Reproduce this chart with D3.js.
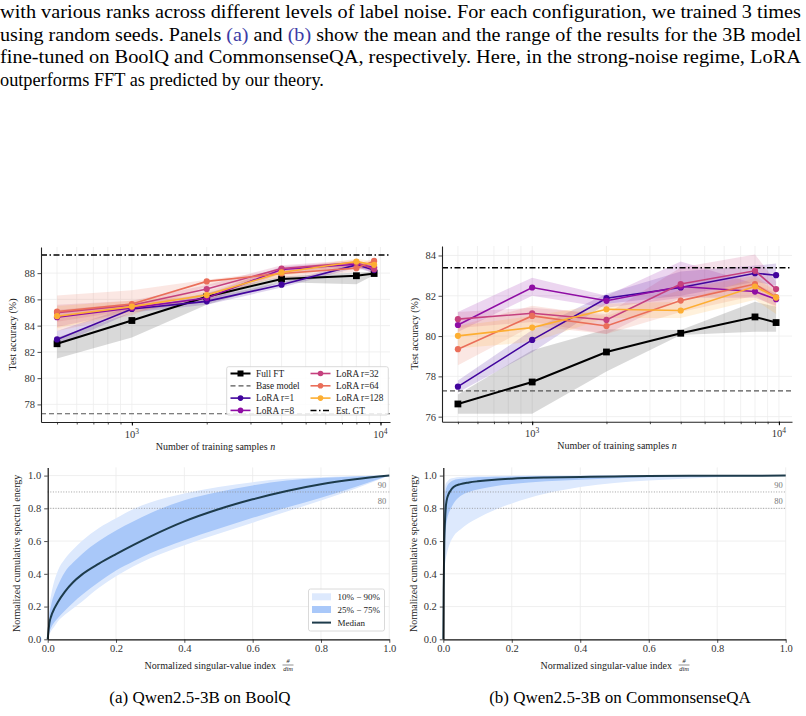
<!DOCTYPE html>
<html><head><meta charset="utf-8">
<script src="https://cdn.jsdelivr.net/npm/d3@7"></script>
<style>body{margin:0;background:#fff}svg{display:block}</style>
</head><body><svg id="c" width="806" height="716"></svg>
<script>
// ---------------- DATA ----------------
const seriesNames = ["Full FT", "LoRA r=1", "LoRA r=8", "LoRA r=32", "LoRA r=64", "LoRA r=128"];
const seriesColors = ["#000000", "#41049d", "#8f0da4", "#c5407e", "#ea6e59", "#fdae32"];

const boolqSizes = [500, 1000, 2000, 4000, 8000, 9427];
const boolqMean = [
  [82.62, 84.39, 86.20, 87.55, 87.80, 87.97],
  [82.95, 85.27, 85.85, 87.12, 88.63, 88.23],
  [84.64, 85.35, 86.10, 88.28, 88.68, 88.45],
  [84.99, 85.55, 86.79, 88.35, 88.80, 88.30],
  [85.07, 85.65, 87.37, 87.97, 88.38, 88.93],
  [84.72, 85.45, 86.33, 88.05, 88.88, 88.63]
];
const boolqLo = [
  [81.50, 83.10, 85.60, 87.30, 87.15, 87.85],
  [82.50, 85.00, 85.60, 86.90, 88.40, 88.00],
  [83.90, 85.10, 85.80, 88.00, 88.40, 88.20],
  [84.30, 85.20, 86.40, 88.10, 88.50, 88.00],
  [83.60, 84.80, 87.00, 87.60, 88.10, 88.70],
  [83.80, 85.00, 86.00, 87.80, 88.60, 88.40]
];
const boolqHi = [
  [83.10, 85.00, 86.50, 87.75, 88.05, 88.10],
  [83.60, 85.50, 86.10, 87.30, 88.80, 88.50],
  [85.20, 85.70, 86.40, 88.50, 88.90, 88.70],
  [85.60, 85.90, 87.10, 88.60, 89.00, 88.60],
  [86.30, 86.70, 87.50, 88.20, 88.70, 89.10],
  [85.50, 85.90, 86.60, 88.30, 89.10, 88.90]
];

const csqaSizes = [500, 1000, 2000, 4000, 8000, 9741];
const csqaMean = [
  [76.63, 77.72, 79.21, 80.14, 80.95, 80.67],
  [77.49, 79.81, 81.88, 82.41, 83.12, 83.02],
  [80.55, 82.41, 81.75, 82.46, 82.21, 81.83],
  [80.84, 81.13, 80.80, 82.58, 83.24, 82.33],
  [79.35, 81.00, 80.50, 81.76, 82.58, 81.93],
  [80.01, 80.42, 81.33, 81.27, 82.46, 81.91]
];
const csqaLo = [
  [76.15, 76.15, 78.24, 80.05, 80.22, 80.22],
  [77.20, 79.20, 81.60, 82.00, 82.70, 82.50],
  [80.20, 82.00, 81.40, 81.90, 81.90, 81.50],
  [80.40, 80.70, 80.10, 81.90, 82.40, 82.00],
  [78.55, 80.50, 80.10, 81.20, 82.00, 81.40],
  [79.40, 79.70, 80.90, 80.90, 81.80, 81.10]
];
const csqaHi = [
  [77.10, 79.30, 80.34, 80.30, 81.70, 81.45],
  [77.80, 80.30, 82.10, 83.20, 83.50, 83.60],
  [81.20, 82.90, 82.00, 83.70, 82.60, 82.10],
  [81.20, 81.40, 81.10, 83.40, 84.05, 82.70],
  [80.50, 81.50, 81.00, 82.30, 83.00, 82.30],
  [80.50, 81.00, 81.60, 81.70, 82.90, 82.20]
];
const boolqBase = 77.29, boolqGT = 89.39;
const csqaBase = 77.28, csqaGT = 83.39;
const boolqYTicks = [78, 80, 82, 84, 86, 88];
const csqaYTicks = [76, 78, 80, 82, 84];

// spectral energy (bottom panels)
const boolqIdx = [0, 0.005, 0.01, 0.02, 0.03, 0.05, 0.075, 0.1, 0.15, 0.2, 0.25, 0.3, 0.4, 0.5, 0.6, 0.7, 0.8, 0.9, 1.0];
const boolqMed = [0, 0.10, 0.14, 0.19, 0.228, 0.29, 0.35, 0.395, 0.462, 0.52, 0.575, 0.627, 0.72, 0.794, 0.855, 0.906, 0.947, 0.977, 1.0];
const boolqP25 = [0, 0.045, 0.07, 0.105, 0.13, 0.175, 0.225, 0.27, 0.35, 0.42, 0.475, 0.525, 0.605, 0.675, 0.742, 0.805, 0.865, 0.93, 1.0];
const boolqP75 = [0, 0.15, 0.21, 0.28, 0.33, 0.41, 0.47, 0.52, 0.60, 0.665, 0.72, 0.77, 0.85, 0.90, 0.94, 0.97, 0.985, 0.995, 1.0];
const boolqP10 = [0, 0.03, 0.05, 0.08, 0.11, 0.15, 0.19, 0.23, 0.315, 0.385, 0.445, 0.495, 0.575, 0.645, 0.712, 0.78, 0.848, 0.92, 1.0];
const boolqP90 = [0, 0.20, 0.27, 0.36, 0.42, 0.49, 0.55, 0.60, 0.68, 0.74, 0.795, 0.835, 0.89, 0.93, 0.96, 0.98, 0.99, 0.997, 1.0];

const csqaIdx = [0, 0.001, 0.003, 0.005, 0.007, 0.01, 0.015, 0.02, 0.03, 0.05, 0.075, 0.1, 0.15, 0.2, 0.3, 0.4, 0.5, 0.6, 0.8, 1.0];
const csqaMed = [0, 0.30, 0.60, 0.72, 0.80, 0.85, 0.885, 0.905, 0.93, 0.948, 0.958, 0.965, 0.975, 0.981, 0.988, 0.992, 0.995, 0.997, 0.999, 1.0];
const csqaP25 = [0, 0.15, 0.45, 0.60, 0.67, 0.72, 0.765, 0.79, 0.83, 0.875, 0.90, 0.915, 0.935, 0.948, 0.965, 0.975, 0.984, 0.99, 0.996, 1.0];
const csqaP75 = [0, 0.50, 0.80, 0.88, 0.91, 0.93, 0.95, 0.96, 0.972, 0.98, 0.986, 0.99, 0.993, 0.995, 0.997, 0.998, 0.999, 0.999, 1.0, 1.0];
const csqaP10 = [0, 0.35, 0.42, 0.46, 0.49, 0.52, 0.56, 0.59, 0.63, 0.67, 0.71, 0.74, 0.79, 0.83, 0.89, 0.93, 0.955, 0.97, 0.99, 1.0];
const csqaP90 = [0, 0.60, 0.88, 0.93, 0.95, 0.96, 0.972, 0.98, 0.986, 0.991, 0.994, 0.996, 0.998, 0.999, 1.0, 1.0, 1.0, 1.0, 1.0, 1.0];
const energyTicks = [0, 0.2, 0.4, 0.6, 0.8, 1.0];
const refLevels = [0.9, 0.8];
const refLabels = ["90", "80"];

const paragraph = [
  [{t: "with various ranks across different levels of label noise. For each configuration, we trained 3 times"}],
  [{t: "using random seeds. Panels "}, {t: "(a)", c: "#3b3ba6"}, {t: " and "}, {t: "(b)", c: "#3b3ba6"}, {t: " show the mean and the range of the results for the 3B model"}],
  [{t: "fine-tuned on BoolQ and CommonsenseQA, respectively. Here, in the strong-noise regime, LoRA"}],
  [{t: "outperforms FFT as predicted by our theory."}]
];
const captions = ["(a) Qwen2.5-3B on BoolQ", "(b) Qwen2.5-3B on CommonsenseQA"];

// ---------------- DRAW ----------------
const serif = "'Liberation Serif','Times New Roman',serif";
const svg = d3.select("#c");
svg.append("rect").attr("width", 806).attr("height", 716).attr("fill", "#fff");

// paragraph (justified: lines 1-3 stretched to full width)
const paraBase = [18, 40.5, 63, 85.5];
paragraph.forEach((line, i) => {
  const t = svg.append("text").attr("x", 0).attr("y", paraBase[i])
    .attr("font-family", serif).attr("font-size", 18.3).attr("fill", "#000");
  line.forEach(p => t.append("tspan").attr("fill", p.c || "#000").text(p.t));
  if (i < 3) t.attr("textLength", 801).attr("lengthAdjust", "spacingAndGlyphs");
});

function accPanel(o) {
  const g = svg.append("g");
  const x = d3.scaleLog().domain(o.xDomain).range(o.xRange);
  const y = d3.scaleLinear().domain(o.yDomain).range(o.yRange);
  const minor = [];
  for (let d = 100; d <= 10000; d *= 10)
    for (let k = 1; k <= 9; k++) { const v = d * k; if (v >= o.xDomain[0] && v <= o.xDomain[1]) minor.push(v); }
  // grid
  g.selectAll(".gx").data(minor).join("line")
    .attr("x1", d => x(d)).attr("x2", d => x(d)).attr("y1", o.yRange[0]).attr("y2", o.yRange[1])
    .attr("stroke", "#ededed").attr("stroke-width", 0.8);
  g.selectAll(".gy").data(o.yTicks).join("line")
    .attr("x1", o.xRange[0]).attr("x2", o.xRange[1]).attr("y1", d => y(d)).attr("y2", d => y(d))
    .attr("stroke", "#ececec").attr("stroke-width", 0.8);
  // bands
  o.mean.forEach((m, i) => {
    const pts = o.sizes.map((s, j) => ({s, lo: o.lo[i][j], hi: o.hi[i][j]}));
    g.append("path").datum(pts)
      .attr("d", d3.area().x(d => x(d.s)).y0(d => y(d.lo)).y1(d => y(d.hi)))
      .attr("fill", seriesColors[i]).attr("fill-opacity", i === 0 ? 0.15 : 0.17);
  });
  // reference lines
  g.append("line").attr("x1", o.xRange[0]).attr("x2", o.xRange[1])
    .attr("y1", y(o.base)).attr("y2", y(o.base))
    .attr("stroke", "#555").attr("stroke-width", 1.2).attr("stroke-dasharray", "5,3");
  g.append("line").attr("x1", o.xRange[0]).attr("x2", o.xRange[1])
    .attr("y1", y(o.gt)).attr("y2", y(o.gt))
    .attr("stroke", "#000").attr("stroke-width", 1.5).attr("stroke-dasharray", "6,2.5,1.5,2.5");
  // lines
  o.mean.forEach((m, i) => {
    const pts = o.sizes.map((s, j) => ({s, v: m[j]}));
    g.append("path").datum(pts)
      .attr("d", d3.line().x(d => x(d.s)).y(d => y(d.v)))
      .attr("fill", "none").attr("stroke", seriesColors[i]).attr("stroke-width", i === 0 ? 2 : 1.6);
    if (i === 0) {
      g.selectAll(null).data(pts).join("rect")
        .attr("x", d => x(d.s) - 3.4).attr("y", d => y(d.v) - 3.4).attr("width", 6.8).attr("height", 6.8)
        .attr("fill", "#000");
    } else {
      g.selectAll(null).data(pts).join("circle")
        .attr("cx", d => x(d.s)).attr("cy", d => y(d.v)).attr("r", 3.1).attr("fill", seriesColors[i]);
    }
  });
  // axes
  const ya = g.append("g").attr("transform", `translate(${o.xRange[0]},0)`)
    .call(d3.axisLeft(y).tickValues(o.yTicks).tickSize(3.5).tickSizeOuter(0).tickPadding(2.5).tickFormat(d3.format("d")));
  const xa = g.append("g").attr("transform", `translate(0,${o.yRange[0]})`)
    .call(d3.axisBottom(x).tickValues(minor).tickSize(2.5).tickSizeOuter(0).tickFormat(() => ""));
  g.append("g").attr("transform", `translate(0,${o.yRange[0]})`)
    .call(d3.axisBottom(x).tickValues([1000, 10000]).tickSize(3.5).tickSizeOuter(0).tickFormat(() => ""))
    .select(".domain").remove();
  [ya, xa].forEach(a => {
    a.select(".domain").attr("stroke", "#222").attr("stroke-width", 1.1);
    a.selectAll(".tick line").attr("stroke", "#222").attr("stroke-width", 0.8);
    a.selectAll("text").attr("font-family", serif).attr("font-size", 10.5).attr("fill", "#333");
  });
  [1000, 10000].forEach((v, k) => {
    const t = g.append("text").attr("x", x(v)).attr("y", o.yRange[0] + 15.5).attr("text-anchor", "middle")
      .attr("font-family", serif).attr("font-size", 10.5).attr("fill", "#333");
    t.append("tspan").text("10");
    t.append("tspan").attr("dy", -4).attr("font-size", 7.5).text(k === 0 ? "3" : "4");
  });
  const xl = g.append("text").attr("x", (o.xRange[0] + o.xRange[1]) / 2).attr("y", o.yRange[0] + 27.5)
    .attr("text-anchor", "middle").attr("font-family", serif).attr("font-size", 10).attr("fill", "#222");
  xl.append("tspan").text("Number of training samples ");
  xl.append("tspan").attr("font-style", "italic").text("n");
  g.append("text").attr("transform", `translate(${o.ylabX},${(o.yRange[0] + o.yRange[1]) / 2}) rotate(-90)`)
    .attr("text-anchor", "middle").attr("font-family", serif).attr("font-size", 10).attr("fill", "#222")
    .text("Test accuracy (%)");

  if (o.legend) {
    const lg = g.append("g");
    lg.append("rect").attr("x", 226.7).attr("y", 366.7).attr("width", 161.6).attr("height", 48.3).attr("rx", 2)
      .attr("fill", "#fff").attr("fill-opacity", 0.85).attr("stroke", "#d0d0d0").attr("stroke-width", 0.8);
    const entries = [
      {n: seriesNames[0], c: "#000", m: "sq", w: 2},
      {n: "Base model", c: "#555", dash: "5,3", w: 1.2},
      {n: seriesNames[1], c: seriesColors[1], m: "c", w: 1.6},
      {n: seriesNames[2], c: seriesColors[2], m: "c", w: 1.6},
      {n: seriesNames[3], c: seriesColors[3], m: "c", w: 1.6},
      {n: seriesNames[4], c: seriesColors[4], m: "c", w: 1.6},
      {n: seriesNames[5], c: seriesColors[5], m: "c", w: 1.6},
      {n: "Est. GT", c: "#000", dash: "6,2.5,1.5,2.5", w: 1.5}
    ];
    const rowsY = [373.5, 385.8, 398.1, 410.4];
    entries.forEach((e, k) => {
      const col = Math.floor(k / 4), row = k % 4;
      const x0 = col === 0 ? 230.5 : 310.5, yy = rowsY[row];
      lg.append("line").attr("x1", x0).attr("x2", x0 + 20).attr("y1", yy).attr("y2", yy)
        .attr("stroke", e.c).attr("stroke-width", e.w).attr("stroke-dasharray", e.dash || null);
      if (e.m === "sq") lg.append("rect").attr("x", x0 + 7).attr("y", yy - 3).attr("width", 6).attr("height", 6).attr("fill", "#000");
      if (e.m === "c") lg.append("circle").attr("cx", x0 + 10).attr("cy", yy).attr("r", 2.8).attr("fill", e.c);
      lg.append("text").attr("x", x0 + 25.5).attr("y", yy + 3.2).attr("font-family", serif).attr("font-size", 9.3)
        .attr("fill", "#222").text(e.n);
    });
  }
}

accPanel({xDomain: [431, 10920], xRange: [41, 390], yDomain: [76.66, 89.99], yRange: [422, 247],
  sizes: boolqSizes, mean: boolqMean, lo: boolqLo, hi: boolqHi, base: boolqBase, gt: boolqGT,
  yTicks: boolqYTicks, ylabX: 16, legend: true});
accPanel({xDomain: [431, 11300], xRange: [442, 792], yDomain: [75.75, 84.47], yRange: [421.7, 246],
  sizes: csqaSizes, mean: csqaMean, lo: csqaLo, hi: csqaHi, base: csqaBase, gt: csqaGT,
  yTicks: csqaYTicks, ylabX: 417.5, legend: false});

function energyPanel(o) {
  const g = svg.append("g");
  const x = d3.scaleLinear().domain([0, 1]).range(o.xRange);
  const y = d3.scaleLinear().domain([0, 1.05]).range([639.3, 467.4]);
  g.selectAll(null).data(energyTicks.slice(1)).join("line")
    .attr("x1", d => x(d)).attr("x2", d => x(d)).attr("y1", y(0)).attr("y2", y(1.05))
    .attr("stroke", "#ebebeb").attr("stroke-width", 0.8);
  g.selectAll(null).data(energyTicks.slice(1)).join("line")
    .attr("x1", o.xRange[0]).attr("x2", o.xRange[1]).attr("y1", d => y(d)).attr("y2", d => y(d))
    .attr("stroke", "#ebebeb").attr("stroke-width", 0.8);
  const pts = o.idx.map((v, j) => ({x: v, med: o.med[j], p10: o.p10[j], p90: o.p90[j], p25: o.p25[j], p75: o.p75[j]}));
  const cv = d3.curveMonotoneX;
  g.append("path").datum(pts).attr("d", d3.area().curve(cv).x(d => x(d.x)).y0(d => y(d.p10)).y1(d => y(d.p90)))
    .attr("fill", "#dde9fd");
  g.append("path").datum(pts).attr("d", d3.area().curve(cv).x(d => x(d.x)).y0(d => y(d.p25)).y1(d => y(d.p75)))
    .attr("fill", "#a9c8f9");
  refLevels.forEach((lv, k) => {
    g.append("line").attr("x1", o.xRange[0]).attr("x2", o.xRange[1]).attr("y1", y(lv)).attr("y2", y(lv))
      .attr("stroke", "#8a8a8a").attr("stroke-width", 0.8).attr("stroke-dasharray", "1,1.6");
    g.append("text").attr("x", o.xRange[1] - 3).attr("y", y(lv) - 4).attr("text-anchor", "end")
      .attr("font-family", serif).attr("font-size", 8.5).attr("fill", "#777").text(refLabels[k]);
  });
  g.append("path").datum(pts).attr("d", d3.line().curve(cv).x(d => x(d.x)).y(d => y(d.med)))
    .attr("fill", "none").attr("stroke", "#1d3b4b").attr("stroke-width", 2);
  const ya = g.append("g").attr("transform", `translate(${o.xRange[0]},0)`)
    .call(d3.axisLeft(y).tickValues(energyTicks).tickSize(3.5).tickSizeOuter(0).tickPadding(3).tickFormat(d3.format(".1f")));
  const xa = g.append("g").attr("transform", `translate(0,${y(0)})`)
    .call(d3.axisBottom(x).tickValues(energyTicks).tickSize(3.5).tickSizeOuter(0).tickPadding(2).tickFormat(d3.format(".1f")));
  [ya, xa].forEach(a => {
    a.select(".domain").attr("stroke", "#111").attr("stroke-width", 1.2);
    a.selectAll(".tick line").attr("stroke", "#222").attr("stroke-width", 0.8);
    a.selectAll("text").attr("font-family", serif).attr("font-size", 10.5).attr("fill", "#333");
  });
  const cx = (o.xRange[0] + o.xRange[1]) / 2, fc = cx + 69.5;
  g.append("text").attr("x", fc - 12).attr("y", 668.5).attr("text-anchor", "end")
    .attr("font-family", serif).attr("font-size", 10).attr("fill", "#222").text("Normalized singular-value index");
  g.append("text").attr("x", fc).attr("y", 663).attr("text-anchor", "middle").attr("font-family", serif)
    .attr("font-size", 6.5).attr("font-style", "italic").attr("fill", "#222").text("#");
  g.append("line").attr("x1", fc - 5.5).attr("x2", fc + 5.5).attr("y1", 665).attr("y2", 665)
    .attr("stroke", "#222").attr("stroke-width", 0.5);
  g.append("text").attr("x", fc).attr("y", 670.5).attr("text-anchor", "middle").attr("font-family", serif)
    .attr("font-size", 6.5).attr("font-style", "italic").attr("fill", "#222").text("dim");
  g.append("text").attr("transform", `translate(${o.ylabX},${(y(0) + y(1.05)) / 2}) rotate(-90)`)
    .attr("text-anchor", "middle").attr("font-family", serif).attr("font-size", 10).attr("fill", "#222")
    .text("Normalized cumulative spectral energy");
  if (o.legend) {
    const lg = g.append("g");
    lg.append("rect").attr("x", 308.5).attr("y", 589).attr("width", 76).attr("height", 42).attr("rx", 2)
      .attr("fill", "#fff").attr("fill-opacity", 0.85).attr("stroke", "#d0d0d0").attr("stroke-width", 0.8);
    const items = [{t: "10% \u2212 90%", f: "#dde9fd"}, {t: "25% \u2212 75%", f: "#a9c8f9"}, {t: "Median", l: "#1d3b4b"}];
    const ry = [596.8, 609.5, 622.6];
    items.forEach((it, k) => {
      if (it.f) lg.append("rect").attr("x", 312).attr("y", ry[k] - 3.5).attr("width", 19).attr("height", 7).attr("fill", it.f);
      else lg.append("line").attr("x1", 312).attr("x2", 331).attr("y1", ry[k]).attr("y2", ry[k]).attr("stroke", it.l).attr("stroke-width", 2);
      lg.append("text").attr("x", 337.5).attr("y", ry[k] + 3.2).attr("font-family", serif).attr("font-size", 9)
        .attr("fill", "#222").text(it.t);
    });
  }
}
energyPanel({xRange: [47.7, 389.3], idx: boolqIdx, med: boolqMed, p10: boolqP10, p90: boolqP90, p25: boolqP25, p75: boolqP75, ylabX: 20, legend: true});
energyPanel({xRange: [443.3, 785.7], idx: csqaIdx, med: csqaMed, p10: csqaP10, p90: csqaP90, p25: csqaP25, p75: csqaP75, ylabX: 417, legend: false});

// captions
[200, 620].forEach((cx, i) => {
  svg.append("text").attr("x", cx).attr("y", 703).attr("text-anchor", "middle")
    .attr("font-family", serif).attr("font-size", 17).attr("fill", "#000").text(captions[i]);
});
</script></body></html>
